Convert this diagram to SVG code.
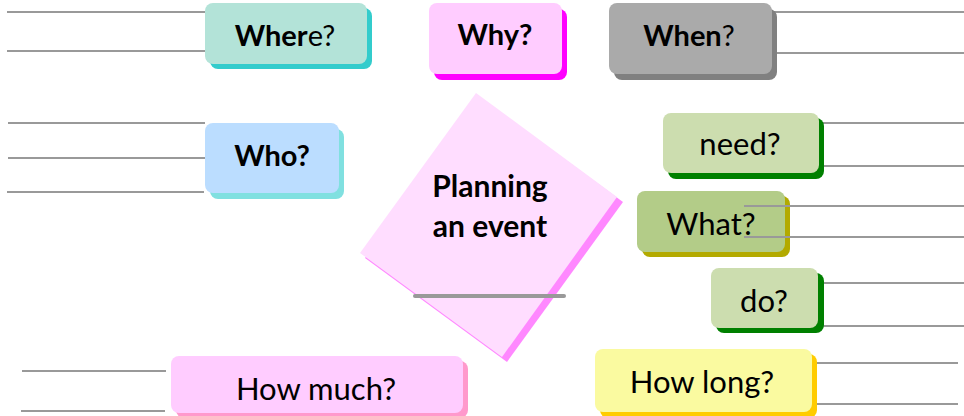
<svg xmlns="http://www.w3.org/2000/svg" width="964" height="416" viewBox="0 0 964 416">
<style>
.ln{stroke:#999;stroke-width:2;fill:none}
.t{font-family:Lato,"Open Sans","Liberation Sans",sans-serif;fill:#000;text-anchor:middle}
.b{font-weight:bold;font-size:29px}
.c{font-weight:bold;font-size:30px}
.r{font-size:31px}
</style>
<rect width="964" height="416" fill="#fff"/>
<g id="connectors">
<line class="ln" x1="7" y1="12" x2="205" y2="12"/>
<line class="ln" x1="7" y1="51" x2="205" y2="51"/>
<line class="ln" x1="772" y1="12" x2="964" y2="12"/>
<line class="ln" x1="772" y1="53" x2="964" y2="53"/>
<line class="ln" x1="8" y1="123" x2="205" y2="123"/>
<line class="ln" x1="8" y1="158" x2="205" y2="158"/>
<line class="ln" x1="7" y1="192" x2="204" y2="192"/>
<line class="ln" x1="820" y1="123" x2="964" y2="123"/>
<line class="ln" x1="820" y1="166" x2="964" y2="166"/>
<line class="ln" x1="818" y1="283" x2="964" y2="283"/>
<line class="ln" x1="818" y1="326" x2="964" y2="326"/>
<line class="ln" x1="22" y1="371" x2="166" y2="371"/>
<line class="ln" x1="21" y1="411" x2="165" y2="411"/>
<line class="ln" x1="815" y1="363" x2="958" y2="363"/>
<line class="ln" x1="815" y1="404" x2="958" y2="404"/>
</g>
<g id="where">
<rect x="210" y="8" width="162" height="61" rx="8" fill="#33cccc"/>
<rect x="205" y="3" width="162" height="61" rx="8" fill="#b3e3d8"/>
<text class="t b" x="285" y="46"><tspan>Wher</tspan><tspan font-weight="normal">e?</tspan></text>
</g>
<g id="why">
<rect x="434" y="9" width="133" height="71" rx="8" fill="#ff00ff"/>
<rect x="429" y="3" width="133" height="71" rx="8" fill="#ffccff"/>
<text class="t b" x="495" y="45">Why?</text>
</g>
<g id="when">
<rect x="614" y="9" width="163" height="71" rx="8" fill="#808080"/>
<rect x="609" y="3" width="163" height="71" rx="8" fill="#aaaaaa"/>
<text class="t b" x="689" y="46"><tspan>When</tspan><tspan font-weight="normal">?</tspan></text>
</g>
<g id="who">
<rect x="210" y="129" width="134" height="70" rx="8" fill="#80e0e0"/>
<rect x="205" y="123" width="134" height="70" rx="8" fill="#bbddff"/>
<text class="t b" x="272" y="166">Who?</text>
</g>
<g id="center">
<polygon points="481,98 623,202 507,362 365,258" fill="#ff88ff"/>
<polygon points="476,93 617,197 502,357 360,253" fill="#ffddff"/>
<text class="t c" x="490" y="197">Planning</text>
<text class="t c" x="490" y="237">an event</text>
<line x1="415" y1="296" x2="564" y2="296" stroke="#999" stroke-width="4" stroke-linecap="round"/>
</g>
<g id="need">
<rect x="668" y="118" width="156" height="61" rx="8" fill="#008000"/>
<rect x="663" y="113" width="156" height="60" rx="8" fill="#ccddaf"/>
<text class="t r" x="740" y="155">need?</text>
</g>
<g id="what">
<rect x="642" y="196" width="148" height="61" rx="8" fill="#b3aa00"/>
<rect x="637" y="191" width="148" height="61" rx="8" fill="#b3cc88"/>
<text class="t r" x="711" y="235">What?</text>
</g>
<g id="what-lines">
<line class="ln" x1="744" y1="206" x2="964" y2="206"/>
<line class="ln" x1="744" y1="237" x2="964" y2="237"/>
</g>
<g id="do">
<rect x="716" y="273" width="108" height="60" rx="8" fill="#008000"/>
<rect x="711" y="268" width="107" height="60" rx="8" fill="#ccddaf"/>
<text class="t r" x="764" y="312">do?</text>
</g>
<g id="howmuch">
<rect x="176" y="361" width="292" height="57" rx="8" fill="#ff99cc"/>
<rect x="171" y="356" width="292" height="57" rx="8" fill="#ffccff"/>
<text class="t r" x="316" y="400">How much?</text>
</g>
<g id="howlong">
<rect x="600" y="354" width="217" height="64" rx="8" fill="#ffcc00"/>
<rect x="595" y="349" width="217" height="63" rx="8" fill="#fafaa0"/>
<text class="t r" x="702" y="393">How long?</text>
</g>
</svg>
